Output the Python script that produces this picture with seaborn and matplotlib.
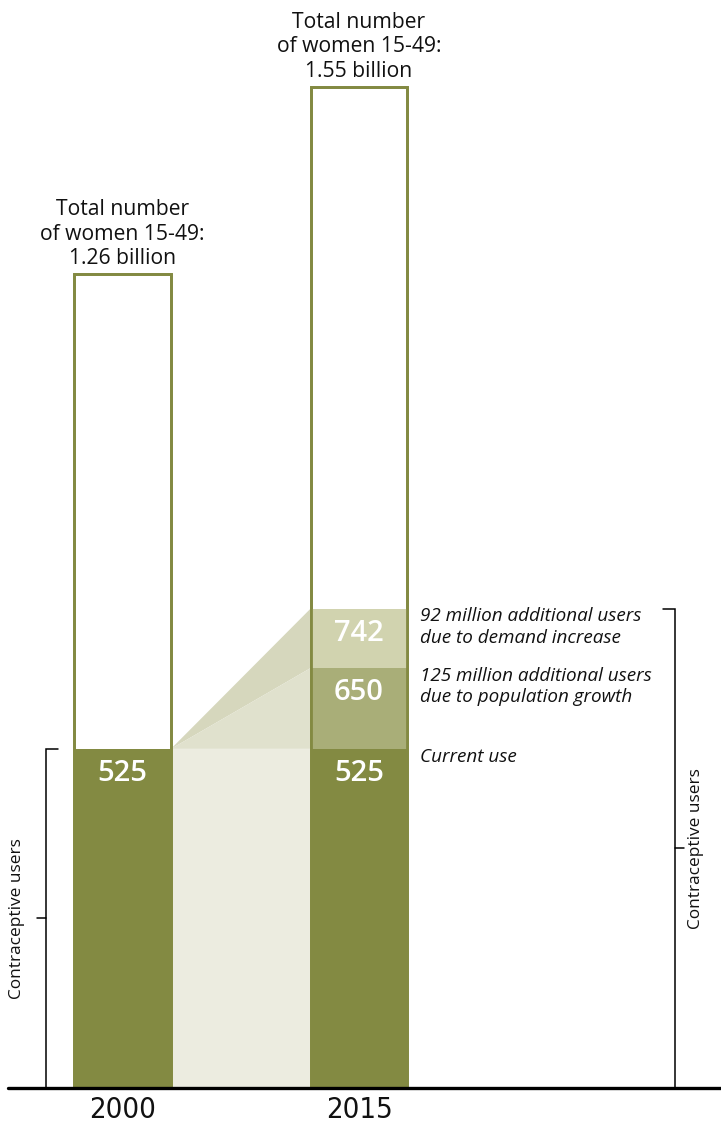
import numpy as np
import pandas as pd
import matplotlib
matplotlib.use("Agg")
import matplotlib.pyplot as plt
import seaborn as sns

# ---------------- data ----------------
years = ["2000", "2015"]
total_women = [1260, 1550]          # millions of women 15-49
total_labels = ["1.26 billion", "1.55 billion"]
current_use = [525, 525]            # millions of contraceptive users
pop_growth_year = ["2015"]
with_pop_growth = [650]             # current use + 125 million
demand_year = ["2015"]
with_demand = [742]                 # + 92 million
ann_demand = "92 million additional users\ndue to demand increase"
ann_pop = "125 million additional users\ndue to population growth"
ann_current = "Current use"
bracket_label = "Contraceptive users"

# ---------------- style ----------------
sns.set_theme(style="white")
plt.rcParams["font.family"] = ["Open Sans", "DejaVu Sans"]

OLIVE = "#838A42"
MID = "#A9AE78"
LIGHT = "#D1D3AF"
WEDGE_UP = "#D6D7BD"
WEDGE_LO = "#E0E1CD"
BAND = "#ECECE0"

W, H = 721, 1124
fig = plt.figure(figsize=(W / 100, H / 100), dpi=100)
base_px = 36
ax = fig.add_axes([0, base_px / H, 1, (H - base_px) / H])

bw = 0.41
common = dict(order=years, width=bw, errorbar=None, saturation=1, ax=ax)

# outline bars (white interior)
sns.barplot(x=years, y=total_women, color="white", edgecolor=OLIVE,
            linewidth=2.0, zorder=1, **common)
# stacked segments (cumulative values, drawn largest first)
sns.barplot(x=demand_year, y=with_demand, color=LIGHT, linewidth=0, zorder=2, **common)
sns.barplot(x=pop_growth_year, y=with_pop_growth, color=MID, linewidth=0, zorder=3, **common)
sns.barplot(x=years, y=current_use, color=OLIVE, linewidth=0, zorder=4, **common)
# outline on top
sns.barplot(x=years, y=total_women, fill=False, edgecolor=OLIVE,
            linewidth=2.0, zorder=5, **common)

# connecting band and wedges between the bars
x0r = 0 + bw / 2
x1l = 1 - bw / 2
ax.fill_between([x0r, x1l], 0, current_use[0], color=BAND, lw=0, zorder=0)
ax.fill([x0r, x1l, x1l], [current_use[0], with_demand[0], with_pop_growth[0]],
        color=WEDGE_UP, lw=0, zorder=0)
ax.fill([x0r, x1l, x1l], [current_use[0], with_pop_growth[0], current_use[1]],
        color=WEDGE_LO, lw=0, zorder=0)

# value labels inside segments
off = 38
vfont = dict(color="white", fontsize=21, fontweight="semibold", ha="center",
             va="center", zorder=10)
ax.text(0, current_use[0] - off, f"{current_use[0]}", **vfont)
ax.text(1, current_use[1] - off, f"{current_use[1]}", **vfont)
ax.text(1, with_pop_growth[0] - off, f"{with_pop_growth[0]}", **vfont)
ax.text(1, with_demand[0] - off, f"{with_demand[0]}", **vfont)

# totals above bars
for i, (t, lab) in enumerate(zip(total_women, total_labels)):
    ax.text(i, t + 8, f"Total number\nof women 15-49:\n{lab}", ha="center",
            va="bottom", fontsize=15.2, color="#111111", linespacing=1.2)

# right-hand annotations
xa = 1 + bw / 2 + 0.055
afont = dict(fontsize=13.6, style="italic", color="#111111", ha="left", va="top",
             linespacing=1.25)
ax.text(xa, with_demand[0] + 2, ann_demand, **afont)
ax.text(xa, with_pop_growth[0] + 2, ann_pop, **afont)
ax.text(xa, current_use[1] + 2, ann_current, **afont)

# brackets
tick = 0.05
def bracket(x, top, side, lab_x):
    # side = +1 -> end ticks point right, middle tick points left
    ax.plot([x + side * tick, x, x, x + side * tick], [top, top, 0, 0],
            color="black", lw=1.1, solid_joinstyle="miter", clip_on=False, zorder=6)
    ax.plot([x, x - side * 0.038], [top / 2, top / 2], color="black", lw=1.1, zorder=6)
    ax.text(lab_x, top / 2, bracket_label, rotation=90, ha="center", va="center",
            fontsize=12.4, fontweight="normal", color="#111111")

bracket(-0.3235, current_use[0], +1, -0.445)
bracket(2.336, with_demand[0], -1, 2.425)

# baseline
ax.plot([-0.484, 2.6], [0, 0], color="black", lw=2.4, clip_on=False, zorder=8)

ax.set_xlim(-122.5 / 236.5, (W - 122.5) / 236.5)
ax.set_ylim(0, (H - base_px) / 0.646)
ax.set_yticks([])
ax.set_xlabel("")
ax.set_ylabel("")
ax.tick_params(axis="x", length=0, pad=6)
for lab in ax.get_xticklabels():
    lab.set_fontfamily(["DejaVu Sans"])
    lab.set_fontstretch("condensed")
    lab.set_fontsize(21)
    lab.set_color("#111111")
for s in ax.spines.values():
    s.set_visible(False)

fig.savefig("out.png", dpi=100)
